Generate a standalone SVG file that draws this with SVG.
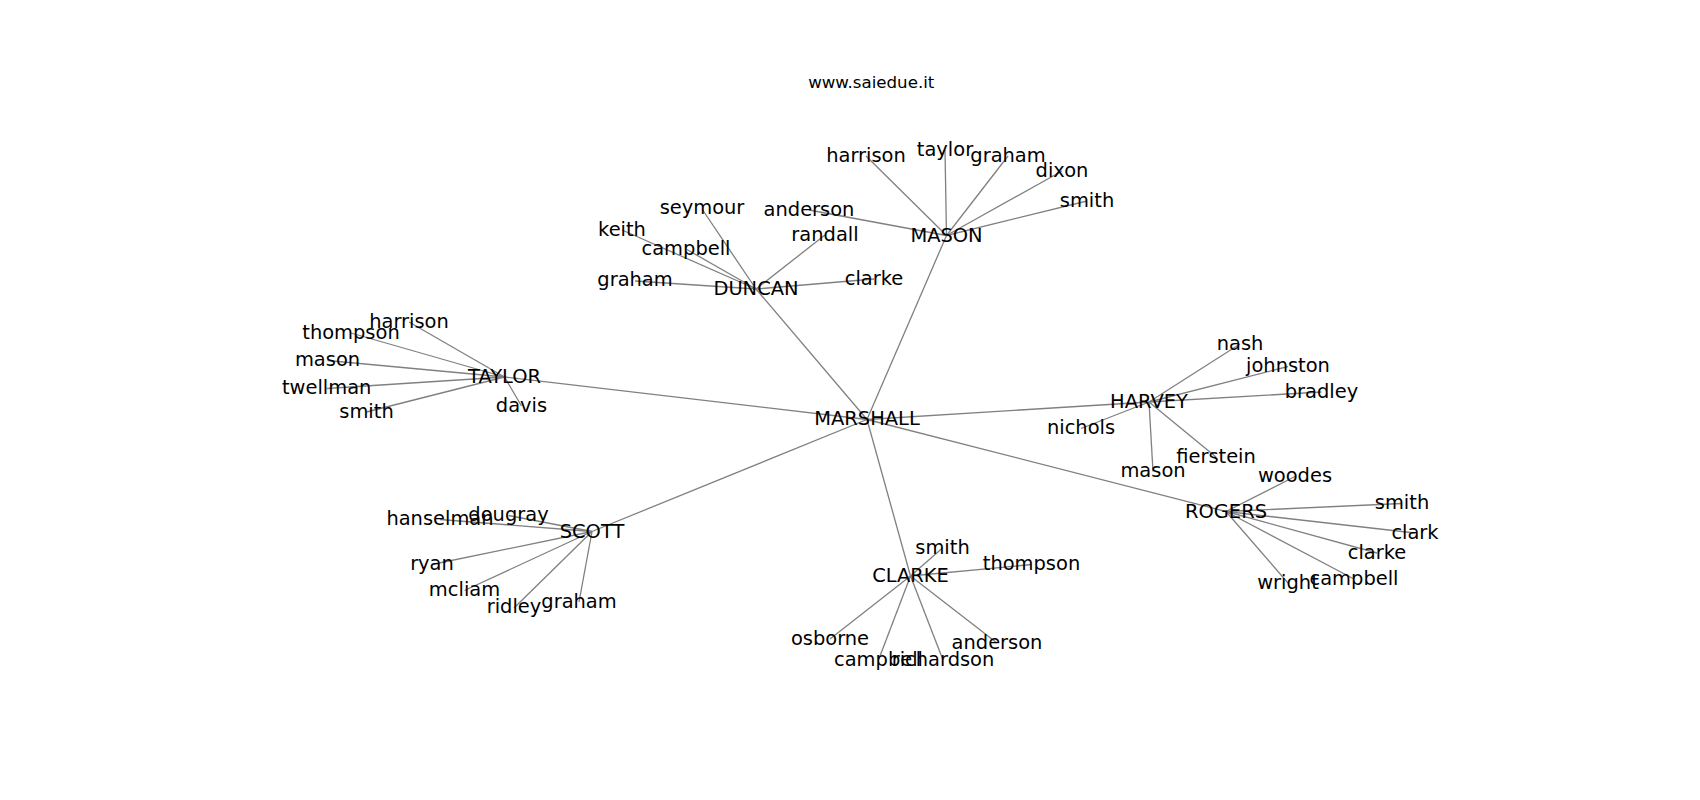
<svg xmlns="http://www.w3.org/2000/svg" width="1700" height="800" viewBox="0 0 1700 800">
<style>
.bg{fill:#ffffff}
.e line{stroke:#808080;stroke-width:1.3;fill:none}
.lbl{font-family:"DejaVu Sans","Liberation Sans",sans-serif;font-size:19.44px;fill:#000000;text-anchor:middle}
.title{font-family:"DejaVu Sans","Liberation Sans",sans-serif;font-size:16.67px;fill:#000000;text-anchor:middle}
</style>
<rect class="bg" x="0" y="0" width="1700" height="800"/>
<text class="title" x="871.25" y="87.7">www.saiedue.it</text>
<g id="edges" class="e">
<line x1="867" y1="419.5" x2="756" y2="289"/>
<line x1="867" y1="419.5" x2="946.5" y2="235.5"/>
<line x1="867" y1="419.5" x2="504.5" y2="377"/>
<line x1="867" y1="419.5" x2="1149" y2="402"/>
<line x1="867" y1="419.5" x2="1226" y2="511.5"/>
<line x1="867" y1="419.5" x2="910.5" y2="576"/>
<line x1="867" y1="419.5" x2="592" y2="531.5"/>
<line x1="946.5" y1="235.5" x2="866" y2="156"/>
<line x1="946.5" y1="235.5" x2="945" y2="150"/>
<line x1="946.5" y1="235.5" x2="1008" y2="156"/>
<line x1="946.5" y1="235.5" x2="1062" y2="171"/>
<line x1="946.5" y1="235.5" x2="1087" y2="201"/>
<line x1="946.5" y1="235.5" x2="809" y2="210"/>
<line x1="756" y1="289" x2="702" y2="209"/>
<line x1="756" y1="289" x2="622" y2="230"/>
<line x1="756" y1="289" x2="686" y2="249"/>
<line x1="756" y1="289" x2="635" y2="281"/>
<line x1="756" y1="289" x2="825" y2="235"/>
<line x1="756" y1="289" x2="874" y2="279"/>
<line x1="504.5" y1="377" x2="409" y2="322"/>
<line x1="504.5" y1="377" x2="351" y2="333"/>
<line x1="504.5" y1="377" x2="327.5" y2="360.5"/>
<line x1="504.5" y1="377" x2="326.7" y2="388.5"/>
<line x1="504.5" y1="377" x2="366.5" y2="412"/>
<line x1="504.5" y1="377" x2="521.5" y2="406"/>
<line x1="1149" y1="402" x2="1240" y2="344"/>
<line x1="1149" y1="402" x2="1288" y2="366.5"/>
<line x1="1149" y1="402" x2="1321.5" y2="392"/>
<line x1="1149" y1="402" x2="1081" y2="428.5"/>
<line x1="1149" y1="402" x2="1153" y2="471.5"/>
<line x1="1149" y1="402" x2="1216" y2="457"/>
<line x1="1226" y1="511.5" x2="1295" y2="476.5"/>
<line x1="1226" y1="511.5" x2="1402" y2="503.5"/>
<line x1="1226" y1="511.5" x2="1415" y2="533"/>
<line x1="1226" y1="511.5" x2="1377" y2="553"/>
<line x1="1226" y1="511.5" x2="1354" y2="579"/>
<line x1="1226" y1="511.5" x2="1288" y2="583"/>
<line x1="910.5" y1="576" x2="942.5" y2="548"/>
<line x1="910.5" y1="576" x2="1031.5" y2="564.5"/>
<line x1="910.5" y1="576" x2="830" y2="639"/>
<line x1="910.5" y1="576" x2="878.5" y2="660"/>
<line x1="910.5" y1="576" x2="943" y2="660"/>
<line x1="910.5" y1="576" x2="997" y2="643"/>
<line x1="592" y1="531.5" x2="440" y2="519.5"/>
<line x1="592" y1="531.5" x2="508.5" y2="515.5"/>
<line x1="592" y1="531.5" x2="432" y2="564.5"/>
<line x1="592" y1="531.5" x2="464.5" y2="590.5"/>
<line x1="592" y1="531.5" x2="514" y2="608"/>
<line x1="592" y1="531.5" x2="579" y2="602"/>
</g>
<g id="n-marshall"><text class="lbl" x="867" y="425.4">MARSHALL</text></g>
<g id="n-mason"><text class="lbl" x="946.5" y="241.6">MASON</text></g>
<g id="n-duncan"><text class="lbl" x="756" y="295.1">DUNCAN</text></g>
<g id="n-taylor"><text class="lbl" x="504.5" y="383.3">TAYLOR</text></g>
<g id="n-harvey"><text class="lbl" x="1149" y="408.1">HARVEY</text></g>
<g id="n-rogers"><text class="lbl" x="1226" y="517.6">ROGERS</text></g>
<g id="n-clarke"><text class="lbl" x="910.5" y="582.1">CLARKE</text></g>
<g id="n-scott"><text class="lbl" x="592" y="537.6">SCOTT</text></g>
<g id="n-mason-harrison"><text class="lbl" x="866" y="161.6">harrison</text></g>
<g id="n-mason-taylor"><text class="lbl" x="945" y="155.6">taylor</text></g>
<g id="n-mason-graham"><text class="lbl" x="1008" y="161.6">graham</text></g>
<g id="n-mason-dixon"><text class="lbl" x="1062" y="176.6">dixon</text></g>
<g id="n-mason-smith"><text class="lbl" x="1087" y="206.6">smith</text></g>
<g id="n-mason-anderson"><text class="lbl" x="809" y="215.6">anderson</text></g>
<g id="n-duncan-seymour"><text class="lbl" x="702" y="214.4">seymour</text></g>
<g id="n-duncan-keith"><text class="lbl" x="622" y="235.6">keith</text></g>
<g id="n-duncan-campbell"><text class="lbl" x="686" y="254.6">campbell</text></g>
<g id="n-duncan-graham"><text class="lbl" x="635" y="286.4">graham</text></g>
<g id="n-duncan-randall"><text class="lbl" x="825" y="240.6">randall</text></g>
<g id="n-duncan-clarke"><text class="lbl" x="874" y="284.6">clarke</text></g>
<g id="n-taylor-harrison"><text class="lbl" x="409" y="327.6">harrison</text></g>
<g id="n-taylor-thompson"><text class="lbl" x="351" y="338.6">thompson</text></g>
<g id="n-taylor-mason"><text class="lbl" x="327.5" y="366.1">mason</text></g>
<g id="n-taylor-twellman"><text class="lbl" x="326.7" y="394.1">twellman</text></g>
<g id="n-taylor-smith"><text class="lbl" x="366.5" y="417.6">smith</text></g>
<g id="n-taylor-davis"><text class="lbl" x="521.5" y="411.6">davis</text></g>
<g id="n-harvey-nash"><text class="lbl" x="1240" y="349.6">nash</text></g>
<g id="n-harvey-johnston"><text class="lbl" x="1288" y="372.1">johnston</text></g>
<g id="n-harvey-bradley"><text class="lbl" x="1321.5" y="397.6">bradley</text></g>
<g id="n-harvey-nichols"><text class="lbl" x="1081" y="434.1">nichols</text></g>
<g id="n-harvey-mason"><text class="lbl" x="1153" y="477.1">mason</text></g>
<g id="n-harvey-fierstein"><text class="lbl" x="1216" y="462.6">fierstein</text></g>
<g id="n-rogers-woodes"><text class="lbl" x="1295" y="482.1">woodes</text></g>
<g id="n-rogers-smith"><text class="lbl" x="1402" y="509.1">smith</text></g>
<g id="n-rogers-clark"><text class="lbl" x="1415" y="538.6">clark</text></g>
<g id="n-rogers-clarke"><text class="lbl" x="1377" y="558.6">clarke</text></g>
<g id="n-rogers-campbell"><text class="lbl" x="1354" y="584.6">campbell</text></g>
<g id="n-rogers-wright"><text class="lbl" x="1288" y="588.6">wright</text></g>
<g id="n-clarke-smith"><text class="lbl" x="942.5" y="553.6">smith</text></g>
<g id="n-clarke-thompson"><text class="lbl" x="1031.5" y="570.1">thompson</text></g>
<g id="n-clarke-osborne"><text class="lbl" x="830" y="644.6">osborne</text></g>
<g id="n-clarke-campbell"><text class="lbl" x="878.5" y="665.6">campbell</text></g>
<g id="n-clarke-richardson"><text class="lbl" x="943" y="665.6">richardson</text></g>
<g id="n-clarke-anderson"><text class="lbl" x="997" y="648.6">anderson</text></g>
<g id="n-scott-hanselman"><text class="lbl" x="440" y="525.1">hanselman</text></g>
<g id="n-scott-dougray"><text class="lbl" x="508.5" y="521.1">dougray</text></g>
<g id="n-scott-ryan"><text class="lbl" x="432" y="570.1">ryan</text></g>
<g id="n-scott-mcliam"><text class="lbl" x="464.5" y="596.1">mcliam</text></g>
<g id="n-scott-ridley"><text class="lbl" x="514" y="613.4">ridley</text></g>
<g id="n-scott-graham"><text class="lbl" x="579" y="607.6">graham</text></g>
</svg>
